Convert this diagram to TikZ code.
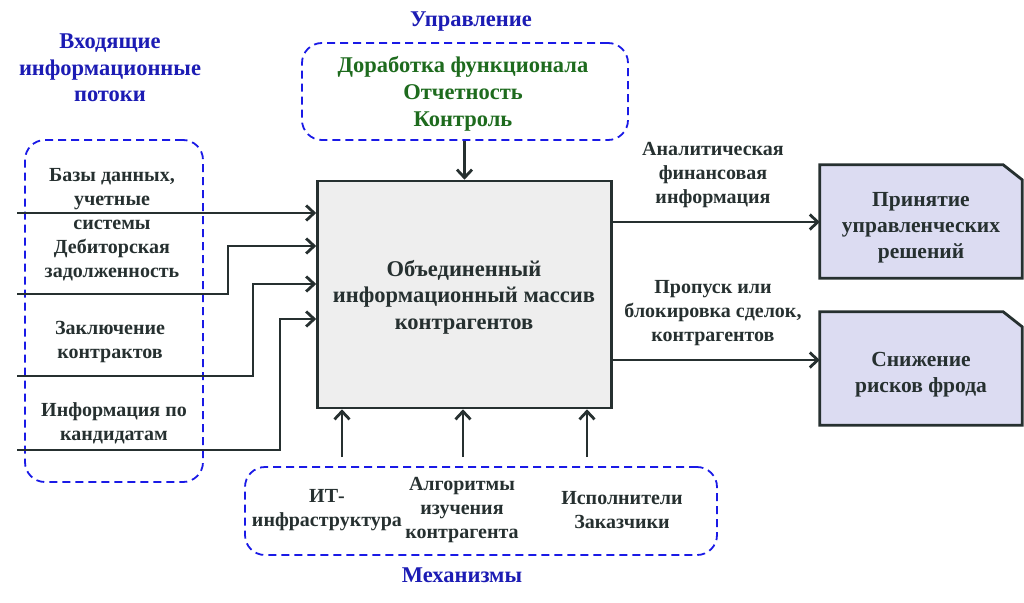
\documentclass[tikz,border=0pt]{standalone}
\usepackage{fontspec}
\setmainfont{Liberation Serif}
\usetikzlibrary{arrows.meta}
\definecolor{dashblue}{HTML}{1A1AE6}
\definecolor{titleblue}{HTML}{1C1CB4}
\definecolor{dkgreen}{HTML}{1E6B1E}
\definecolor{ink}{HTML}{263030}
\definecolor{docfill}{HTML}{DCDCF2}
\definecolor{mainfill}{HTML}{EEEEEE}
\tikzset{
  txt/.style={align=center, inner sep=0pt, font=\fontsize{20}{24}\selectfont\bfseries, text=ink},
  ttl/.style={align=center, inner sep=0pt, font=\fontsize{22.5}{26.5}\selectfont\bfseries, text=titleblue},
  grp/.style={draw=dashblue, dashed, dash pattern=on 8pt off 5pt, line width=1.8pt, rounded corners=20pt},
  arr/.style={draw=ink, line width=2.8pt, -{Straight Barb[length=8pt,width=15pt]}},
  docbox/.style={draw=ink, fill=docfill, line width=2.8pt, line join=miter},
}
\begin{document}
\begin{tikzpicture}[x=1pt,y=-1pt]
\useasboundingbox (0,0) rectangle (1024,602);
% groups
\node[grp, minimum width=326, minimum height=97] (ctl) at (465,91.5) {};
\node[grp, minimum width=178, minimum height=342] (inp) at (114,311) {};
\node[grp, minimum width=472, minimum height=88] (mech) at (481,511) {};
% main
\node[draw=ink, fill=mainfill, line width=2.6pt, minimum width=294, minimum height=227] (main) at (464.5,294.5) {};
\node[txt, font=\fontsize{22.5}{26.5}\selectfont\bfseries] (maint) at (464,297) {Объединенный\\информационный массив\\контрагентов};
% titles
\node[ttl] (t1) at (471,22) {Управление};
\node[ttl] (t2) at (110,68) {Входящие\\информационные\\потоки};
\node[ttl] (t3) at (462,575) {Механизмы};
% control text
\node[txt, text=dkgreen, font=\fontsize{22.5}{27}\selectfont\bfseries] (ctlt) at (463,94) {Доработка функционала\\Отчетность\\Контроль};
\draw[arr] (ctl.south -| main.north) -- (main.north);
% input labels
\node[txt] (l1) at (112,199) {Базы данных,\\учетные\\системы};
\node[txt] (l2) at (112,260) {Дебиторская\\задолженность};
\node[txt] (l3) at (110,342) {Заключение\\контрактов};
\node[txt] (l4) at (114,423) {Информация по\\кандидатам};
% input arrows
\coordinate (s1) at (17,213);
\coordinate (s2) at (17,294);
\coordinate (k2) at (228,246);
\coordinate (s3) at (17,376);
\coordinate (k3) at (253,284);
\coordinate (s4) at (17,450);
\coordinate (k4) at (280,319);
\draw[arr] (s1) -- (s1 -| main.west);
\draw[arr] (s2) -| (k2) -- (k2 -| main.west);
\draw[arr] (s3) -| (k3) -- (k3 -| main.west);
\draw[arr] (s4) -| (k4) -- (k4 -| main.west);
% outputs
\node[minimum width=202, minimum height=113, inner sep=0pt] (d1) at (921,221.5) {};
\node[minimum width=202, minimum height=113, inner sep=0pt] (d2) at (921,368.5) {};
\path[docbox] (d1.south west) -- (d1.north west) -- ([xshift=-19pt]d1.north east) -- ([yshift=-15pt]d1.north east) -- (d1.south east) -- cycle;
\path[docbox] (d2.south west) -- (d2.north west) -- ([xshift=-19pt]d2.north east) -- ([yshift=-15pt]d2.north east) -- (d2.south east) -- cycle;
\node[txt, font=\fontsize{21.5}{26}\selectfont\bfseries] (d1t) at (921,228) {Принятие\\управленческих\\решений};
\node[txt, font=\fontsize{21.5}{26}\selectfont\bfseries] (d2t) at (921,375) {Снижение\\рисков фрода};
\coordinate (o1) at (612,222);
\coordinate (o2) at (612,360);
\draw[arr] (o1) -- (o1 -| d1.west);
\draw[arr] (o2) -- (o2 -| d2.west);
\node[txt] (ol1) at (713,175) {Аналитическая\\финансовая\\информация};
\node[txt] (ol2) at (713,313) {Пропуск или\\блокировка сделок,\\контрагентов};
% mechanisms
\coordinate (m1) at (342,457);
\coordinate (m2) at (463,457);
\coordinate (m3) at (587,457);
\draw[arr] (m1) -- (m1 |- main.south);
\draw[arr] (m2) -- (m2 |- main.south);
\draw[arr] (m3) -- (m3 |- main.south);
\node[txt] (b1) at (327,510) {ИТ-\\инфраструктура};
\node[txt] (b2) at (462,510) {Алгоритмы\\изучения\\контрагента};
\node[txt] (b3) at (622,510) {Исполнители\\Заказчики};
\end{tikzpicture}
\end{document}
